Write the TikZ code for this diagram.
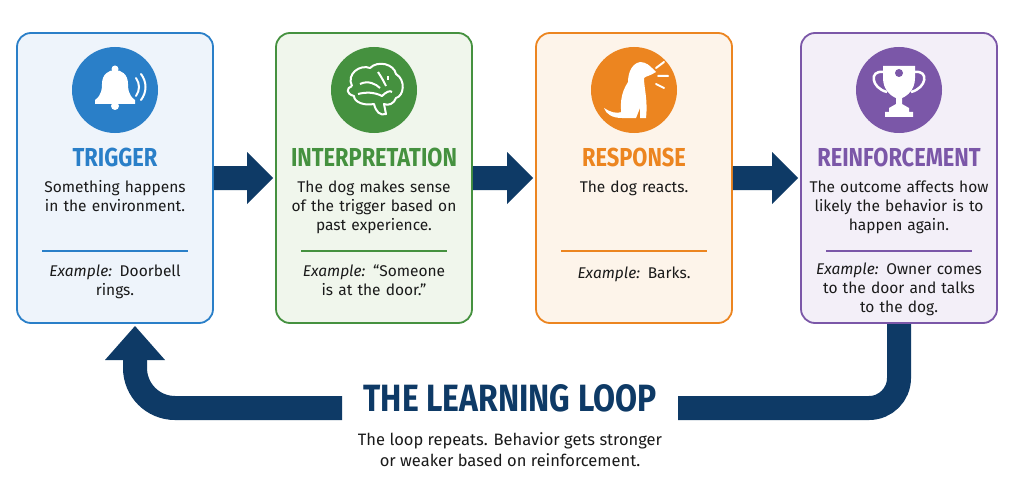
\documentclass[tikz,border=0pt]{standalone}
\usepackage{fontspec}
\setmainfont{Fira Sans}
\definecolor{navy}{HTML}{0E3A66}
\definecolor{cA}{HTML}{2A7FC8}\definecolor{fA}{HTML}{EEF4FB}
\definecolor{cB}{HTML}{45913F}\definecolor{fB}{HTML}{F0F6EC}
\definecolor{cC}{HTML}{EC8520}\definecolor{fC}{HTML}{FDF4EA}
\definecolor{cD}{HTML}{7B57A8}\definecolor{fD}{HTML}{F3EFF8}
\definecolor{txt}{HTML}{1A1A1A}
\begin{document}
\begin{tikzpicture}[x=1pt,y=-1pt,
 card/.style={draw=#1,line width=1.8pt,rounded corners=14pt,minimum width=196pt,minimum height=290pt,inner sep=0},
 ico/.style={circle,fill=#1,minimum size=86pt,inner sep=0},
 ttl/.style={text=#1,font=\fontsize{26}{28}\selectfont\bfseries,xscale=0.84},
 body/.style={text=txt,font=\fontsize{15.5}{19}\selectfont,align=center,anchor=north,text width=196pt},
 sep/.style={draw=#1,line width=1.2pt}]
\useasboundingbox (0,0) rectangle (1024,492);
\fill[white] (0,0) rectangle (1024,492);
% loop
\draw[navy,line width=24pt,rounded corners=30pt] (899,322) -- (899,408) -- (678,408);
\draw[navy,line width=24pt,rounded corners=40pt] (342,408) -- (135,408) -- (135,356);
\fill[navy] (105,360) -- (135,326) -- (165,360) -- cycle;
\node[font=\fontsize{38}{40}\selectfont\bfseries,text=navy,xscale=0.84] (loopt) at (510,398) {THE LEARNING LOOP};
\node[font=\fontsize{16.5}{21}\selectfont,text=txt,align=center] (loops) at (510,450) {The loop repeats. Behavior gets stronger\\or weaker based on reinforcement.};
% cards
\foreach \n/\x/\c/\f in {a/115/cA/fA,b/374/cB/fB,c/634/cC/fC,d/899/cD/fD}{
 \node[card=\c,fill=\f] (\n) at (\x,178) {};
 \node[ico=\c] (i\n) at (\x,90) {};
 \draw[sep=\c] (\x-73,251) -- (\x+73,251);
}
\node[ttl=cA] (ta) at (115,157) {TRIGGER};
\node[ttl=cB] (tb) at (374,157) {INTERPRETATION};
\node[ttl=cC] (tc) at (634,157) {RESPONSE};
\node[ttl=cD] (td) at (899,157) {REINFORCEMENT};
\node[body] (ba) at (115,177) {Something happens\\in the environment.};
\node[body] (bb) at (374,177) {The dog makes sense\\of the trigger based on\\past experience.};
\node[body] (bc) at (634,177) {The dog reacts.};
\node[body] (bd) at (899,177) {The outcome affects how\\likely the behavior is to\\happen again.};
\node[body] (ea) at (115,261) {\textit{Example:} Doorbell\\rings.};
\node[body] (eb) at (374,261) {\textit{Example:} “Someone\\is at the door.”};
\node[body] (ec) at (634,263) {\textit{Example:} Barks.};
\node[body] (ed) at (899,259) {\textit{Example:} Owner comes\\to the door and talks\\to the dog.};
% flow arrows
\foreach \p/\q in {a/b,b/c,c/d}{
 \fill[navy] ([yshift=12pt]\p.east) -- ([xshift=-28pt,yshift=12pt]\q.west) -- ([xshift=-28pt,yshift=26pt]\q.west) -- ([xshift=-2pt]\q.west) -- ([xshift=-28pt,yshift=-26pt]\q.west) -- ([xshift=-28pt,yshift=-12pt]\q.west) -- ([yshift=-12pt]\p.east) -- cycle;
}
% bell
\begin{scope}[shift={(ia.center)},white]
 \fill (-20,14) -- (20,14) -- (20,10) .. controls (13,5) and (13,-2) .. (13,-6) .. controls (13,-16) and (6,-20) .. (0,-20) .. controls (-6,-20) and (-13,-16) .. (-13,-6) .. controls (-13,-2) and (-13,5) .. (-20,10) -- cycle;
 \fill (0,-21) circle (3.5);
 \fill (0,16) circle (4);
 \draw[line width=2pt,line cap=round] (21,-12) .. controls (25,-6) and (25,0) .. (21,6);
 \draw[line width=2pt,line cap=round] (26,-16) .. controls (32,-8) and (32,2) .. (26,10);
\end{scope}
% brain
\begin{scope}[shift={(ib.center)},white,line width=2pt,line join=round]
 \draw (-22,-4) .. controls (-28,-16) and (-14,-26) .. (-4,-22) .. controls (4,-30) and (20,-26) .. (22,-16) .. controls (32,-10) and (30,6) .. (22,8) .. controls (20,14) and (14,16) .. (10,14) -- (12,24) .. controls (6,26) and (2,22) .. (0,14) .. controls (-10,16) and (-20,12) .. (-20,6) .. controls (-28,4) and (-28,-2) .. (-22,-4);
 \draw (-14,-6) .. controls (-6,-10) and (2,-6) .. (6,-2);
 \draw (-16,4) .. controls (-8,2) and (0,2) .. (8,6) .. controls (12,2) and (16,0) .. (18,2);
 \draw (4,-18) .. controls (8,-12) and (10,-8) .. (12,-4);
 \draw (14,-14) -- (14,-10);
\end{scope}
% dog
\begin{scope}[shift={(ic.center)},white]
 \fill (-12,28) .. controls (-14,16) and (-14,4) .. (-6,-8) .. controls (-6,-14) and (-4,-26) .. (6,-28) .. controls (12,-28) and (16,-24) .. (18,-22) -- (22,-18) .. controls (16,-14) and (12,-14) .. (10,-12) .. controls (10,-2) and (14,10) .. (12,28) -- (6,28) -- (6,18) -- (2,28) -- cycle;
 \fill (-12,28) .. controls (-22,28) and (-28,24) .. (-30,18) .. controls (-24,22) and (-18,24) .. (-12,22) -- cycle;
 \fill (4,-24) .. controls (-2,-22) and (-4,-14) .. (-2,-8) .. controls (2,-12) and (4,-18) .. (4,-24);
 \draw[line width=2pt,line cap=round] (22,-22) -- (30,-28) (24,-14) -- (34,-14) (22,-6) -- (30,-2);
\end{scope}
% trophy
\begin{scope}[shift={(id.center)},white]
 \fill (-16,-24) -- (16,-24) -- (16,-12) .. controls (16,0) and (8,6) .. (3,8) -- (3,14) -- (10,18) -- (10,22) -- (14,22) -- (14,27) -- (-14,27) -- (-14,22) -- (-10,22) -- (-10,18) -- (-3,14) -- (-3,8) .. controls (-8,6) and (-16,0) .. (-16,-12) -- cycle;
 \draw[line width=2.5pt] (-16,-18) .. controls (-30,-20) and (-28,-2) .. (-12,2);
 \draw[line width=2.5pt] (16,-18) .. controls (30,-20) and (28,-2) .. (12,2);
 \fill[cD] (0,-17) circle (4);
\end{scope}
\end{tikzpicture}
\end{document}
